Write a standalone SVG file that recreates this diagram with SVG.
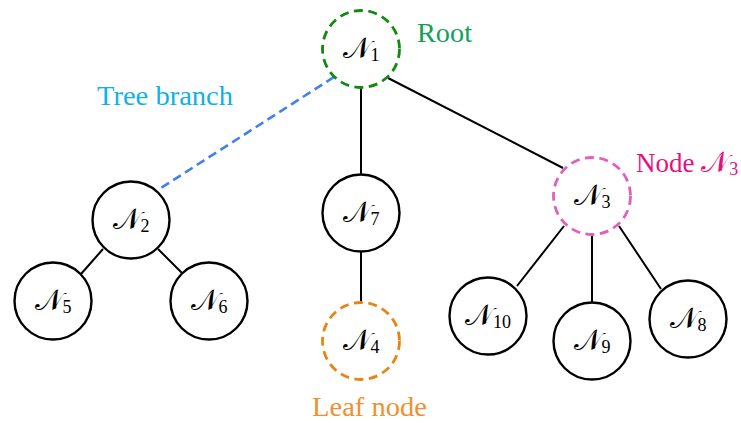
<svg xmlns="http://www.w3.org/2000/svg" width="741" height="423" viewBox="0 0 741 423">
<style>
.n{fill:#fff;stroke:#000;stroke-width:2.4}
.e{stroke:#000;stroke-width:2;fill:none}
.m{font-family:"DejaVu Serif","Liberation Serif",serif;font-size:29px;text-anchor:middle;fill:#000}
.s{font-family:"Liberation Serif",serif;font-size:18px}
.lab{font-family:"Liberation Serif",serif;font-size:27px}
</style>
<rect width="741" height="423" fill="#fff"/>
<g id="connectors">
<line class="e" x1="361" y1="88" x2="361" y2="174"/>
<line class="e" x1="388" y1="78" x2="563" y2="168"/>
<line class="e" x1="103" y1="249" x2="81" y2="274"/>
<line class="e" x1="158" y1="249" x2="182" y2="273"/>
<line class="e" x1="361" y1="252" x2="361" y2="302"/>
<line class="e" x1="564" y1="226" x2="517" y2="286"/>
<line class="e" x1="592" y1="235" x2="592" y2="302"/>
<line class="e" x1="619" y1="226" x2="661" y2="289"/>
<line x1="334" y1="77" x2="161" y2="188" stroke="#4080f0" stroke-width="2.6" stroke-dasharray="9,5"/>
</g>
<g id="N1"><circle cx="361" cy="49" r="38.5" fill="#fff" stroke="#128a12" stroke-width="2.8" stroke-dasharray="9,5.5"/><text class="m" x="361" y="58">𝒩<tspan class="s" dy="3">1</tspan></text></g>
<g id="N2"><circle class="n" cx="131" cy="220" r="38.5"/><text class="m" x="131" y="229">𝒩<tspan class="s" dy="3">2</tspan></text></g>
<g id="N3"><circle cx="592" cy="196" r="38.5" fill="#fff" stroke="#e060c0" stroke-width="2.8" stroke-dasharray="9,5.5"/><text class="m" x="592" y="205">𝒩<tspan class="s" dy="3">3</tspan></text></g>
<g id="N4"><circle cx="361" cy="341" r="38.5" fill="#fff" stroke="#e88412" stroke-width="2.8" stroke-dasharray="9,5.5"/><text class="m" x="361" y="350">𝒩<tspan class="s" dy="3">4</tspan></text></g>
<g id="N5"><circle class="n" cx="53" cy="301" r="38.5"/><text class="m" x="53" y="310">𝒩<tspan class="s" dy="3">5</tspan></text></g>
<g id="N6"><circle class="n" cx="209" cy="301" r="38.5"/><text class="m" x="209" y="310">𝒩<tspan class="s" dy="3">6</tspan></text></g>
<g id="N7"><circle class="n" cx="361" cy="213" r="38.5"/><text class="m" x="361" y="222">𝒩<tspan class="s" dy="3">7</tspan></text></g>
<g id="N8"><circle class="n" cx="688" cy="319" r="38.5"/><text class="m" x="688" y="328">𝒩<tspan class="s" dy="3">8</tspan></text></g>
<g id="N9"><circle class="n" cx="592" cy="341" r="38.5"/><text class="m" x="592" y="350">𝒩<tspan class="s" dy="3">9</tspan></text></g>
<g id="N10"><circle class="n" cx="488" cy="316" r="38.5"/><text class="m" x="488" y="325">𝒩<tspan class="s" dy="3">10</tspan></text></g>
<g id="labels">
<text class="lab" x="417" y="42" fill="#10a058" textLength="55" lengthAdjust="spacingAndGlyphs">Root</text>
<text class="lab" x="97" y="105" fill="#12b0e8" textLength="136" lengthAdjust="spacingAndGlyphs">Tree branch</text>
<text class="lab" x="636" y="172" fill="#e6107e">Node <tspan font-family="DejaVu Serif" font-size="29">𝒩</tspan><tspan class="s" dy="3">3</tspan></text>
<text class="lab" x="312" y="416" fill="#f09030" textLength="115" lengthAdjust="spacingAndGlyphs">Leaf node</text>
</g>
</svg>
